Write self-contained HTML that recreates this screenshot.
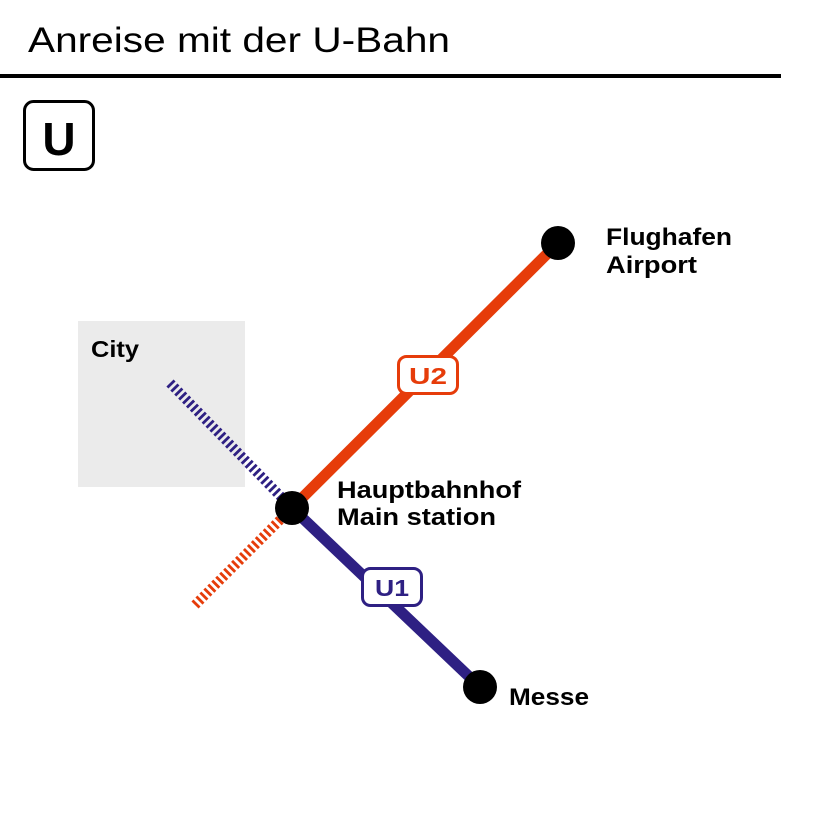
<!DOCTYPE html>
<html><head><meta charset="utf-8"><style>
html,body{margin:0;padding:0;background:#fff;}
svg{display:block;}
text{font-family:"Liberation Sans","DejaVu Sans",sans-serif;}
</style></head><body>
<svg width="813" height="813" viewBox="0 0 813 813" xmlns="http://www.w3.org/2000/svg">
<rect width="813" height="813" fill="#fff"/>
<text x="28" y="52" font-size="35" fill="#000" textLength="422" lengthAdjust="spacingAndGlyphs">Anreise mit der U-Bahn</text>
<rect x="0" y="74" width="781" height="4" fill="#000"/>
<rect x="24.5" y="101.5" width="69" height="68" rx="9" fill="#fff" stroke="#000" stroke-width="3"/>
<text x="59" y="155" font-size="46" font-weight="bold" text-anchor="middle" fill="#000">U</text>
<rect x="78" y="321" width="167" height="166" fill="#ebebeb"/>
<text x="91" y="357" font-size="23" font-weight="bold" fill="#000" textLength="48" lengthAdjust="spacingAndGlyphs">City</text>
<line x1="170" y1="383" x2="286" y2="502" stroke="#2e2083" stroke-width="10" stroke-dasharray="2.8 2.8"/>
<line x1="195" y1="605" x2="284" y2="516" stroke="#e63c0a" stroke-width="10" stroke-dasharray="2.8 2.8"/>
<line x1="292" y1="508" x2="558" y2="243" stroke="#e63c0a" stroke-width="11"/>
<line x1="292" y1="508" x2="480" y2="687" stroke="#2e2083" stroke-width="11"/>
<rect x="398.5" y="356.5" width="59" height="37" rx="8" fill="#fff" stroke="#e63c0a" stroke-width="3"/>
<text x="428" y="384" font-size="23" font-weight="bold" text-anchor="middle" fill="#e63c0a" textLength="38" lengthAdjust="spacingAndGlyphs">U2</text>
<rect x="362.5" y="568.5" width="59" height="37" rx="8" fill="#fff" stroke="#2e2083" stroke-width="3"/>
<text x="392" y="596" font-size="23" font-weight="bold" text-anchor="middle" fill="#2e2083" textLength="34" lengthAdjust="spacingAndGlyphs">U1</text>
<circle cx="292" cy="508" r="17" fill="#000"/>
<circle cx="558" cy="243" r="17" fill="#000"/>
<circle cx="480" cy="687" r="17" fill="#000"/>
<text x="606" y="245" font-size="24" font-weight="bold" fill="#000" textLength="126" lengthAdjust="spacingAndGlyphs">Flughafen</text>
<text x="606" y="273" font-size="24" font-weight="bold" fill="#000" textLength="91" lengthAdjust="spacingAndGlyphs">Airport</text>
<text x="337" y="498" font-size="24" font-weight="bold" fill="#000" textLength="184" lengthAdjust="spacingAndGlyphs">Hauptbahnhof</text>
<text x="337" y="525" font-size="24" font-weight="bold" fill="#000" textLength="159" lengthAdjust="spacingAndGlyphs">Main station</text>
<text x="509" y="705" font-size="24" font-weight="bold" fill="#000" textLength="80" lengthAdjust="spacingAndGlyphs">Messe</text>
</svg>
</body></html>
